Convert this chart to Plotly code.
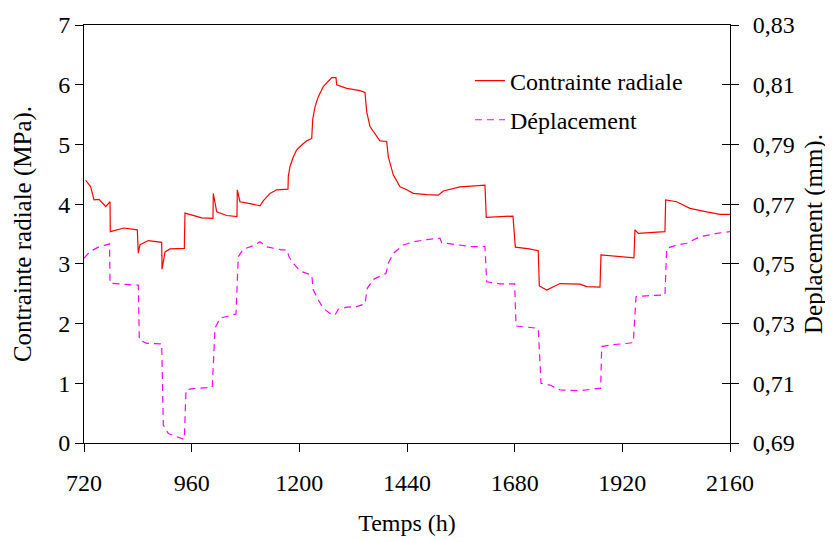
import plotly.graph_objects as go

# Contrainte radiale (MPa)
t_stress = [723.8, 734.9, 742.3, 753.4, 768.4, 778, 778.6, 809.2, 838.8, 841, 844.8, 863.3, 893.2, 893.9,
            900.6, 911.7, 943.6, 945.1, 982.4, 1007.5, 1008.2, 1015.8, 1038, 1061, 1061.7, 1067.7, 1090,
            1112.3, 1120, 1134.6, 1149.5, 1174.7, 1175.4, 1179.2, 1186.6, 1194.1, 1205.3, 1216.4, 1227.6,
            1229.8, 1235, 1242.3, 1253.5, 1264.6, 1272.2, 1281.7, 1283.3, 1305.6, 1335.2, 1346.3, 1350.1,
            1357.5, 1372.4, 1379.7, 1394.7, 1398.3, 1409.4, 1424.4, 1439.3, 1454, 1483.9, 1509.7, 1520.9,
            1539.6, 1558.1, 1613.8, 1616.7, 1676.2, 1681.5, 1712.6, 1732.6, 1734.9, 1751.4, 1781, 1825.6,
            1840.5, 1870.2, 1872.4, 1899.8, 1945.9, 1948.2, 1955.5, 2015, 2016.6, 2041.1, 2070.8, 2108,
            2137.6, 2160]
stress = [4.40, 4.29, 4.07, 4.08, 3.96, 4.04, 3.54, 3.60, 3.57, 3.18, 3.32, 3.39, 3.36, 2.91,
          3.20, 3.25, 3.26, 3.85, 3.77, 3.76, 4.18, 3.87, 3.81, 3.79, 4.24, 4.04, 4.01,
          3.97, 4.06, 4.18, 4.24, 4.25, 4.46, 4.63, 4.79, 4.91, 4.99, 5.06, 5.10,
          5.42, 5.63, 5.80, 5.97, 6.07, 6.12, 6.12, 6.00, 5.94, 5.90, 5.87, 5.55,
          5.30, 5.13, 5.06, 5.05, 4.79, 4.49, 4.29, 4.24, 4.18, 4.16, 4.15, 4.22,
          4.26, 4.29, 4.32, 3.78, 3.80, 3.28, 3.25, 3.22, 2.63, 2.56, 2.67, 2.66,
          2.62, 2.61, 3.15, 3.13, 3.10, 3.57, 3.51, 3.54, 4.07, 4.04, 3.93, 3.87,
          3.83, 3.83]

# Déplacement (mm)
t_disp = [720, 733.4, 751.9, 766.8, 777, 778, 800.2, 833.7, 841, 843.3, 859.8, 893.2, 896.8, 908, 926.6,
          943.6, 947.4, 963.6, 1006, 1012, 1023.1, 1058.8, 1063.9, 1075.1, 1097.4, 1112.3, 1127.2, 1160.7,
          1171.8, 1177.6, 1186.6, 1201.5, 1216.4, 1227.6, 1231.1, 1242.3, 1253.5, 1268.4, 1279.5, 1286.9,
          1305.6, 1327.9, 1346.3, 1351.5, 1364.9, 1379.8, 1393.2, 1398.3, 1409.4, 1431.7, 1454, 1483.9,
          1513.5, 1517.3, 1550.7, 1580.4, 1613.8, 1617.6, 1647.3, 1680, 1683, 1706.8, 1732.6, 1738.7,
          1758.7, 1781, 1825.6, 1866.4, 1871.7, 1874, 1892.5, 1944.4, 1950.5, 1974.3, 2015.1, 2018.9,
          2041.1, 2063.4, 2078.1, 2093, 2115.3, 2130.3, 2160]
disp = [0.7519, 0.7541, 0.7556, 0.7563, 0.7567, 0.7435, 0.7432, 0.7429, 0.7429, 0.7245, 0.7234, 0.7232,
        0.6960, 0.6932, 0.6921, 0.6912, 0.7078, 0.7082, 0.7087, 0.7284, 0.7318, 0.7332, 0.7524, 0.7549,
        0.7561, 0.7574, 0.7557, 0.7547, 0.7547, 0.7522, 0.7502, 0.7476, 0.7468, 0.7463, 0.7413, 0.7379,
        0.7351, 0.7334, 0.7329, 0.7348, 0.7355, 0.7357, 0.7366, 0.7418, 0.7448, 0.7459, 0.7468, 0.7502,
        0.7535, 0.7563, 0.7574, 0.7581, 0.7586, 0.7571, 0.7563, 0.7558, 0.7558, 0.7440, 0.7433, 0.7433,
        0.7292, 0.7288, 0.7284, 0.7100, 0.7094, 0.7078, 0.7075, 0.7083, 0.7083, 0.7223, 0.7228, 0.7236,
        0.7390, 0.7393, 0.7396, 0.7552, 0.7563, 0.7569, 0.7580, 0.7591, 0.7597, 0.7602, 0.7608]

x_ticks = [720, 960, 1200, 1440, 1680, 1920, 2160]
y_ticks = [0, 1, 2, 3, 4, 5, 6, 7]
y2_ticks = [0.69, 0.71, 0.73, 0.75, 0.77, 0.79, 0.81, 0.83]
y2_labels = ["0,69", "0,71", "0,73", "0,75", "0,77", "0,79", "0,81", "0,83"]

FONT = "Liberation Serif"
FS_TICK = 24
FS_TITLE = 25
FS_LEG = 24

fig = go.Figure()
fig.add_trace(go.Scatter(x=t_stress, y=stress, mode="lines", name="Contrainte radiale",
                         line=dict(color="#FF0000", width=1.2), legendgroup="a"))
fig.add_trace(go.Scatter(x=t_disp, y=disp, mode="lines", name="Déplacement", yaxis="y2",
                         line=dict(color="#FF00FF", width=1.2, dash="7px,5px"), legendgroup="b"))
fig.add_trace(go.Scatter(x=[None], y=[None], yaxis="y3", showlegend=False, hoverinfo="skip"))

fig.update_layout(
    width=825, height=534,
    margin=dict(l=76, r=103, t=17, b=99),
    paper_bgcolor="white", plot_bgcolor="white",
    font=dict(family=FONT, size=FS_TICK, color="black"),
    showlegend=True,
    legend=dict(x=0.5975, y=0.92, xanchor="left", yanchor="top", bgcolor="rgba(0,0,0,0)",
                font=dict(family=FONT, size=FS_LEG), tracegroupgap=5, traceorder="grouped"),
    xaxis=dict(range=[720, 2160], tickvals=x_ticks, ticks="outside", ticklen=8, tickcolor="black",
               showline=True, linecolor="black", linewidth=1, mirror=True, showgrid=False, zeroline=False,
               ticklabelstandoff=10, automargin=False,
               title=dict(text="Temps (h)", standoff=19, font=dict(size=24))),
    yaxis=dict(range=[0, 7], tickvals=y_ticks, ticks="outside", ticklen=8, tickcolor="black",
               showline=True, linecolor="black", linewidth=1, showgrid=False, zeroline=False,
               automargin=False,
               title=dict(text="Contrainte radiale (MPa).", standoff=19, font=dict(size=FS_TITLE))),
    yaxis2=dict(range=[0.69, 0.83], tickvals=y2_ticks, ticktext=y2_labels, overlaying="y", side="right",
                ticks="outside", ticklen=8, tickcolor="black", showline=True, linecolor="black",
                linewidth=1, showgrid=False, zeroline=False, ticklabelstandoff=9, automargin=False,
                title=dict(text="Deplacement (mm).", standoff=10, font=dict(size=FS_TITLE))),
    yaxis3=dict(range=[0.69, 0.83], tickvals=y2_ticks, overlaying="y", side="right", ticks="inside",
                ticklen=8, tickcolor="black", showticklabels=False, showline=False, showgrid=False,
                zeroline=False, automargin=False),
)

fig.write_html("out.html")
